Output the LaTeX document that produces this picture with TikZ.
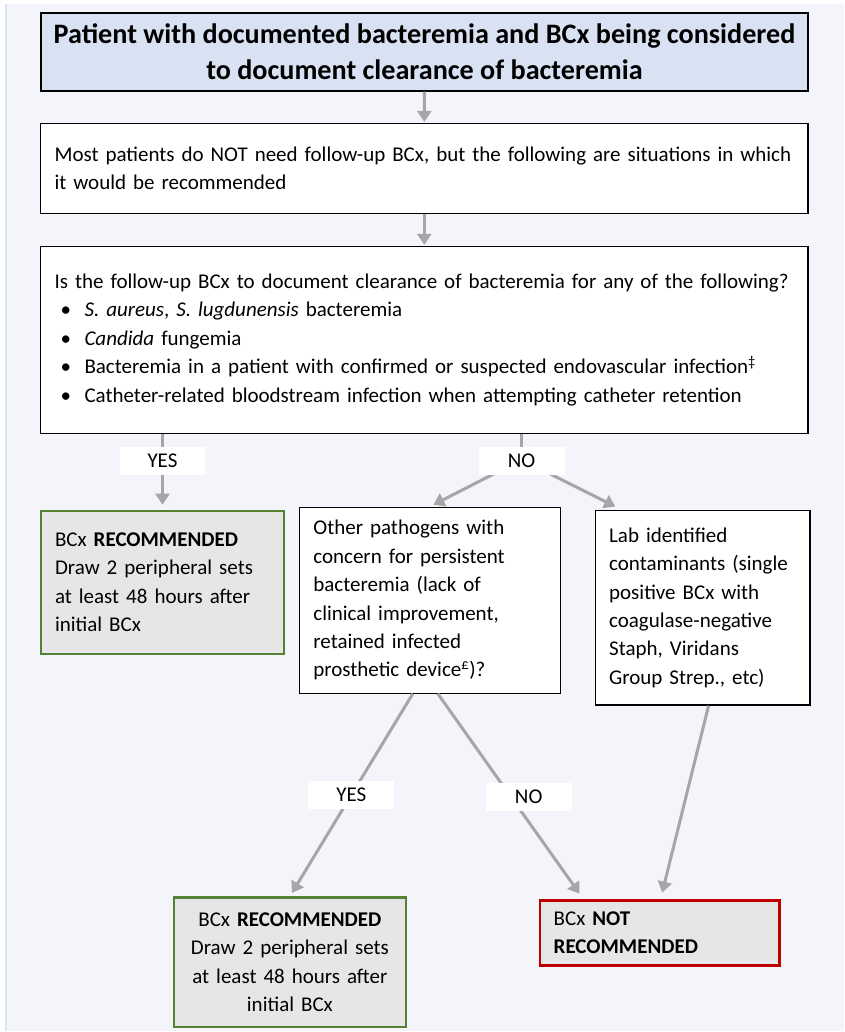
\documentclass[tikz,border=0pt]{standalone}
\usepackage{fontspec}
\setmainfont{Carlito}
\usepackage{tikz}
\usetikzlibrary{positioning,arrows.meta}

\definecolor{pagebg}{HTML}{F4F5FA}
\definecolor{edgeblue}{HTML}{DCE4F1}
\definecolor{titlefill}{HTML}{D9E2F3}
\definecolor{arrowgray}{HTML}{A6A6A6}
\definecolor{boxgray}{HTML}{E7E6E6}
\definecolor{okgreen}{HTML}{548235}
\definecolor{nored}{HTML}{C00000}

\newcommand{\bul}{\makebox[30pt][l]{\hspace{6pt}\textbullet}}

\begin{document}
\begin{tikzpicture}[x=1pt,y=-1pt,
font=\fontsize{21}{28.5}\selectfont,
titlebox/.style={rectangle, draw=black, fill=titlefill, line width=1.6pt, anchor=north west, align=center, font=\fontsize{28.2}{36}\selectfont\bfseries},
plainbox/.style={rectangle, draw=black, fill=white, line width=1.2pt, anchor=north west, align=left, inner xsep=14pt},
yesbox/.style={rectangle, draw=okgreen, fill=boxgray, line width=2.2pt, anchor=north west, inner xsep=14pt},
notbox/.style={rectangle, draw=nored, fill=boxgray, line width=2.2pt, anchor=north west, align=left, inner xsep=14pt},
branchlabel/.style={rectangle, fill=white, minimum width=86pt, minimum height=28pt, inner sep=0pt},
flow/.style={draw=arrowgray, line width=3pt},
flowarrow/.style={flow, -{Triangle[width=14pt,length=11pt]}},
]
%Background
\fill[white] (0,0) rectangle (845,1032);
\fill[pagebg] (6,4) rectangle (845,1032);
\draw[edgeblue, line width=1.5pt] (6,4) -- (6,1032);
\useasboundingbox (0,0) rectangle (845,1032);

%Nodes
\node[titlebox, minimum width=768pt, minimum height=78pt] (start) at (40,12)
  {Patient with documented bacteremia and BCx being considered\\to document clearance of bacteremia};
\node[plainbox, text width=740pt, minimum height=90pt] (most) at (40,123)
  {Most patients do NOT need follow-up BCx, but the following are situations in which\\it would be recommended};
\node[plainbox, text width=740pt, minimum height=187pt] (which) at (40,246)
  {Is the follow-up BCx to document clearance of bacteremia for any of the following?\\
   \bul\textit{S. aureus}, \textit{S. lugdunensis} bacteremia\\
   \bul\textit{Candida} fungemia\\
   \bul Bacteremia in a patient with confirmed or suspected endovascular infection\textsuperscript{‡}\\
   \bul Catheter-related bloodstream infection when attempting catheter retention};
\node[yesbox, text width=215pt, minimum height=143pt, align=left] (recA) at (40,510)
  {BCx \textbf{RECOMMENDED}\\Draw 2 peripheral sets\\at least 48 hours after\\initial BCx};
\node[plainbox, text width=233pt, minimum height=186pt] (other) at (299,507)
  {Other pathogens with\\concern for persistent\\bacteremia (lack of\\clinical improvement,\\retained infected\\prosthetic device\textsuperscript{£})?};
\node[plainbox, text width=187pt, minimum height=195pt] (lab) at (595,510)
  {Lab identified\\contaminants (single\\positive BCx with\\coagulase-negative\\Staph, Viridans\\Group Strep., etc)};
\node[yesbox, text width=204pt, minimum height=130pt, align=center] (recB) at (173,897)
  {BCx \textbf{RECOMMENDED}\\Draw 2 peripheral sets\\at least 48 hours after\\initial BCx};
\node[notbox, text width=212pt, minimum height=65pt] (notrec) at (539,900)
  {BCx \textbf{NOT}\\\textbf{RECOMMENDED}};
\coordinate (nosplit) at (522,460);

%Lines
\draw[flowarrow, shorten >=1pt] (start.south) -- (most.north);
\draw[flowarrow, shorten >=1pt] (most.south) -- (which.north);
\draw[flowarrow, shorten >=5pt] (which.south -| recA.north) -- (recA.north)
  node[branchlabel, pos=0.36, text=black] (yesA) {YES};
\draw[flow] (which.south -| nosplit) -- (nosplit);
\draw[flowarrow, shorten >=4pt] (nosplit) -- (other.north);
\draw[flowarrow, shorten >=7pt] (nosplit) -- ([xshift=27pt]lab.north west);
\node[branchlabel] (noA) at (522,461) {NO};
\draw[flowarrow, shorten >=4pt] ([xshift=-17pt]other.south) -- (recB.north)
  node[branchlabel, midway] (yesB) {YES};
\draw[flowarrow, shorten >=7pt] ([xshift=8pt]other.south) -- ([xshift=45pt]notrec.north west)
  node[branchlabel, midway, xshift=18pt] (noB) {NO};
\draw[flowarrow, shorten >=7pt] ([xshift=6pt]lab.south) -- ([xshift=122pt]notrec.north west);
\end{tikzpicture}
\end{document}
